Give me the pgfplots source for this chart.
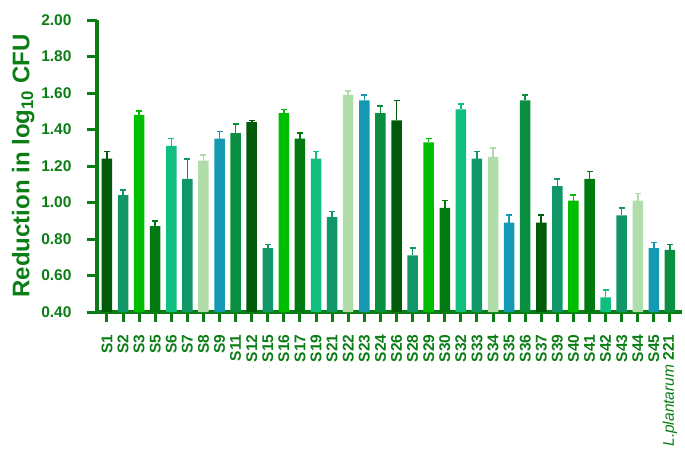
\documentclass[border=0pt]{standalone}
\usepackage{pgfplots}
\pgfplotsset{compat=1.18}
\usepackage{fontspec}
\setmainfont{Liberation Sans}

\definecolor{axgreen}{RGB}{10,125,20}
\definecolor{cdark}{RGB}{0,90,10}
\definecolor{cteal}{RGB}{17,150,104}
\definecolor{cbright}{RGB}{0,190,0}
\definecolor{cgreen}{RGB}{0,122,16}
\definecolor{cmint}{RGB}{16,190,128}
\definecolor{cpale}{RGB}{176,221,170}
\definecolor{cblue}{RGB}{21,152,180}
\definecolor{cmed}{RGB}{10,143,64}

\pgfplotsset{
  barc/.style={ybar, bar width=10.5pt, fill=#1, draw=none,
    error bars/.cd, y dir=plus, y explicit,
    error bar style={draw=#1, line width=1.6pt},
    error mark options={rotate=90, draw=#1, line width=1.6pt, mark size=3pt}},
}

\begin{document}
\begin{tikzpicture}
\path (-97pt,-141pt) rectangle (588pt,312pt);
\begin{axis}[
  scale only axis,
  width=585pt, height=292pt,
  clip mode=individual,
  xmin=-0.62, xmax=35.75,
  ymin=0.4, ymax=2.0,
  ytick={0.4,0.6,...,2.01},
  xtick={0,...,35},
  xticklabels={S1,S2,S3,S5,S6,S7,S8,S9,S11,S12,S15,S16,S17,S19,S21,S22,S23,S24,S26,S28,S29,S30,S32,S33,S34,S35,S36,S37,S39,S40,S41,S42,S43,S44,S45,{{\mdseries\itshape L.plantarum} 221}},
  axis x line*=bottom, axis y line*=left,
  axis line style={line width=4pt, draw=axgreen},
  tick style={line width=3pt, draw=axgreen},
  tick align=outside,
  major tick length=10pt,
  tick label style={font=\fontsize{15.5}{17}\selectfont\bfseries, text=axgreen},
  xticklabel style={rotate=90, anchor=east, xshift=-9pt},
  yticklabel style={xshift=-12pt, /pgf/number format/.cd, fixed, fixed zerofill, precision=2, assume math mode=true},
  ylabel={Reduction in log\textsubscript{10} CFU},
  ylabel style={font=\fontsize{24}{27}\selectfont\bfseries, text=axgreen},
]
\addplot[barc=cdark] coordinates {(0,1.24)+-(0,0.04) (9,1.44)+-(0,0.01) (18,1.45)+-(0,0.11) (27,0.89)+-(0,0.04)};
\addplot[barc=cteal] coordinates {(1,1.04)+-(0,0.03) (10,0.75)+-(0,0.02) (19,0.71)+-(0,0.04) (28,1.09)+-(0,0.04)};
\addplot[barc=cbright] coordinates {(2,1.48)+-(0,0.02) (11,1.49)+-(0,0.02) (20,1.33)+-(0,0.02) (29,1.01)+-(0,0.03)};
\addplot[barc=cgreen] coordinates {(3,0.87)+-(0,0.03) (12,1.35)+-(0,0.03) (21,0.97)+-(0,0.04) (30,1.13)+-(0,0.04)};
\addplot[barc=cmint] coordinates {(4,1.31)+-(0,0.04) (13,1.24)+-(0,0.04) (22,1.51)+-(0,0.03) (31,0.48)+-(0,0.04)};
\addplot[barc=cteal] coordinates {(5,1.13)+-(0,0.11) (14,0.92)+-(0,0.03) (23,1.24)+-(0,0.04) (32,0.93)+-(0,0.04)};
\addplot[barc=cpale] coordinates {(6,1.23)+-(0,0.03) (15,1.59)+-(0,0.02) (24,1.25)+-(0,0.05) (33,1.01)+-(0,0.04)};
\addplot[barc=cblue] coordinates {(7,1.35)+-(0,0.04) (16,1.56)+-(0,0.03) (25,0.89)+-(0,0.04) (34,0.75)+-(0,0.03)};
\addplot[barc=cmed] coordinates {(8,1.38)+-(0,0.05) (17,1.49)+-(0,0.04) (26,1.56)+-(0,0.03) (35,0.74)+-(0,0.03)};
\end{axis}
\end{tikzpicture}
\end{document}
